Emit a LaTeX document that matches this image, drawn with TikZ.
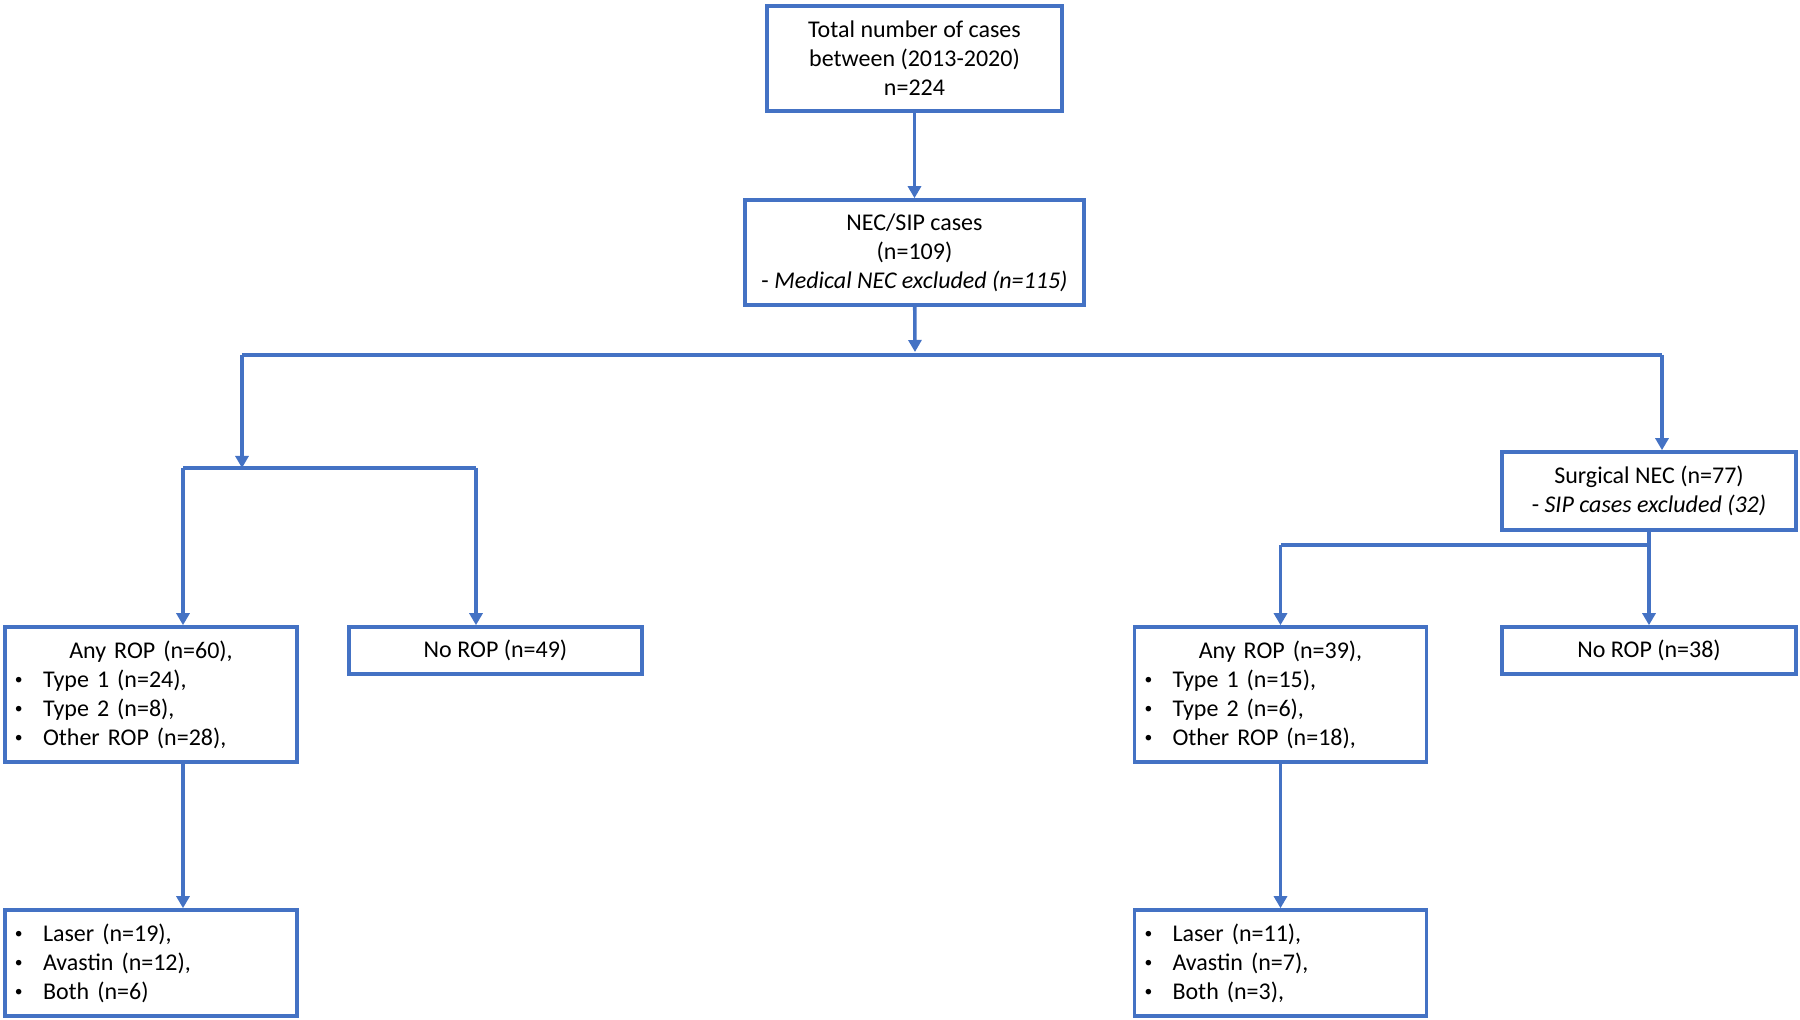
\documentclass[tikz,border=0pt]{standalone}
\usepackage{fontspec}
\setmainfont{Carlito}
\usetikzlibrary{arrows.meta}
\definecolor{flowblue}{HTML}{4472C4}
\newcommand{\itm}[1]{\makebox[14pt][l]{\raisebox{0.12em}{\scalebox{0.65}{\textbullet}}}#1}

\begin{document}
\begin{tikzpicture}[x=0.5pt,y=-0.5pt,
  frame/.style={draw=flowblue, line width=1.8pt, inner xsep=5pt, inner ysep=0pt,
    font=\fontsize{12}{14.5}\selectfont},
  box/.style={frame, align=center},
  listbox/.style={frame, text width=136pt, minimum height=#1},
  conn/.style={flowblue, line width=1.8pt},
  arr/.style={conn, -{Triangle[length=6pt,width=6.5pt]}}]

  \useasboundingbox (0,0) rectangle (1800,1020);

% define the boxes
  \node[box, minimum width=147.5pt, minimum height=52.5pt] (total) at (914.5,58.5)
{Total number of cases\\between (2013-2020)\\n=224};
  \node[box, minimum width=169.5pt, minimum height=52.5pt] (nec) at (914.5,252.5)
{NEC/SIP cases\\(n=109)\\- \textit{Medical NEC excluded (n=115)}};
  \node[box, minimum width=147pt, minimum height=39pt] (surg) at (1649,491)
{Surgical NEC (n=77)\\- \textit{SIP cases excluded (32)}};
  \node[listbox=67.5pt] (anyL) at (151,694.5)
{\centering Any ROP (n=60),\par\raggedright
 \itm{Type 1 (n=24),}\\\itm{Type 2 (n=8),}\\\itm{Other ROP (n=28),}};
  \node[box, minimum width=146.5pt, minimum height=23.5pt] (noL) at (495.5,650.5)
{No ROP (n=49)};
  \node[listbox=67.5pt] (anyR) at (1280.5,694.5)
{\centering Any ROP (n=39),\par\raggedright
 \itm{Type 1 (n=15),}\\\itm{Type 2 (n=6),}\\\itm{Other ROP (n=18),}};
  \node[box, minimum width=147pt, minimum height=23.5pt] (noR) at (1649,650.5)
{No ROP (n=38)};
  \node[listbox=53pt] (laserL) at (151,963)
{\raggedright\itm{Laser (n=19),}\\\itm{Avastin (n=12),}\\\itm{Both (n=6)}};
  \node[listbox=53pt] (laserR) at (1280.5,963)
{\raggedright\itm{Laser (n=11),}\\\itm{Avastin (n=7),}\\\itm{Both (n=3),}};

% define the branch points
  \coordinate (jtop) at (915,352);
  \coordinate (jl)   at (242,355);
  \coordinate (jr)   at (1662,355);
  \coordinate (jl2)  at (242,468);
  \coordinate (jla)  at (183,468);
  \coordinate (jlb)  at (476,468);
  \coordinate (jr2)  at (1649,545);
  \coordinate (jra)  at (1280.5,545);

% define the links
  \draw[arr] (total) -- (nec);
  \draw[arr] (nec) -- (jtop);
  \draw[conn] (jl) -- (jr);
  \draw[arr] (jl) -- (jl2);
  \draw[conn] (jla) -- (jlb);
  \draw[arr] (jla) -- (anyL.north -| jla);
  \draw[arr] (jlb) -- (noL.north -| jlb);
  \draw[arr] (jr) -- (surg.north -| jr);
  \draw[conn] (surg) -- (jr2) -- (jra);
  \draw[arr] (jra) -- (anyR);
  \draw[arr] (jr2) -- (noR);
  \draw[arr] (anyL.south -| jla) -- (laserL.north -| jla);
  \draw[arr] (anyR) -- (laserR);

\end{tikzpicture}
\end{document}
